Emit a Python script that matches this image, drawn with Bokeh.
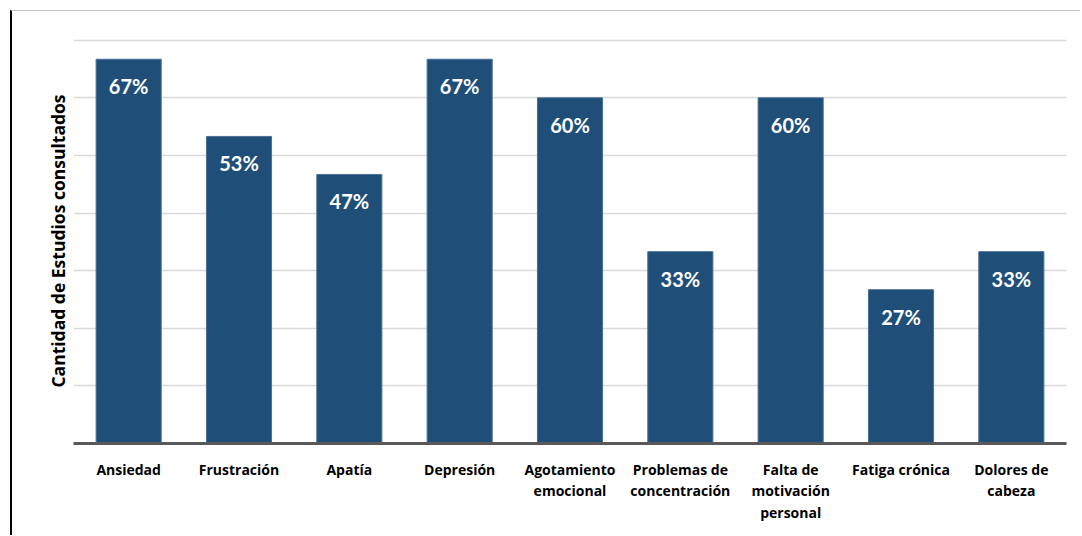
from bokeh.plotting import figure
from bokeh.models import Range1d, FixedTicker, ColumnDataSource
from bokeh.core.properties import value
from bokeh.embed import file_html
from bokeh.resources import INLINE

categories = ["Ansiedad", "Frustración", "Apatía", "Depresión", "Agotamiento\nemocional",
              "Problemas de\nconcentración", "Falta de\nmotivación\npersonal",
              "Fatiga crónica", "Dolores de\ncabeza"]
values = [66.7, 53.3, 46.7, 66.7, 60.0, 33.3, 60.0, 26.7, 33.3]
labels = ["67%", "53%", "47%", "67%", "60%", "33%", "60%", "27%", "33%"]
grid_ticks = [10, 20, 30, 40, 50, 60, 70]
y_title = "Cantidad de Estudios consultados"

FONT = "Lato"
AXFONT = "Open Sans"
src = ColumnDataSource(dict(cat=categories, val=values, lab=labels))

p = figure(x_range=categories, y_range=Range1d(0, 70.3), width=1070, height=525,
           output_backend="svg", toolbar_location=None,
           min_border_left=61, min_border_right=16, min_border_top=27, min_border_bottom=93,
           styles={"border-left": "2px solid #000000", "border-top": "1px solid #c6c6c6",
                   "margin-left": "10px", "margin-top": "10px"})
p.outline_line_color = None
p.background_fill_color = "white"

p.vbar(x="cat", top="val", width=0.59, bottom=0, source=src,
       fill_color="#1f4e79", line_color="#4a6f94", line_width=1)
p.text(x="cat", y="val", text="lab", source=src, y_offset=27,
       text_align="center", text_baseline="middle", text_color="white",
       text_font=value(FONT), text_font_style="bold", text_font_size="20px")

p.xgrid.grid_line_color = None
p.ygrid.ticker = FixedTicker(ticks=grid_ticks)
p.ygrid.grid_line_color = "#d9d9d9"
p.ygrid.grid_line_width = 1.5

p.yaxis.ticker = FixedTicker(ticks=[])
p.yaxis.axis_line_color = None
p.yaxis.major_tick_line_color = None
p.yaxis.minor_tick_line_color = None
p.yaxis.axis_label = y_title
p.yaxis.axis_label_text_font = AXFONT
p.yaxis.axis_label_text_font_style = "bold"
p.yaxis.axis_label_text_font_size = "17.5px"
p.yaxis.axis_label_text_color = "black"
p.yaxis.axis_label_standoff = 4

p.xaxis.axis_line_color = "#595959"
p.xaxis.axis_line_width = 3
p.xaxis.major_tick_line_color = None
p.xaxis.minor_tick_line_color = None
p.xaxis.major_label_text_font = AXFONT
p.xaxis.major_label_text_font_style = "bold"
p.xaxis.major_label_text_font_size = "14px"
p.xaxis.major_label_text_line_height = 1.15
p.xaxis.major_label_text_color = "black"
p.xaxis.major_label_standoff = 10

open("out.html", "w").write(file_html(p, INLINE))
